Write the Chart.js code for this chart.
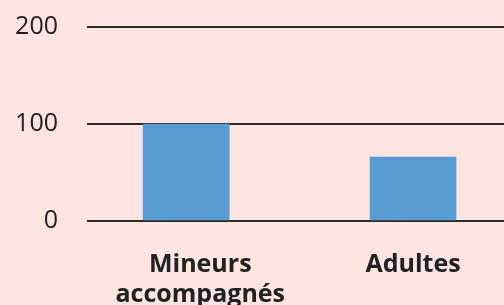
<!DOCTYPE html>
<html>
<head>
<meta charset="utf-8">
<script src="https://cdn.jsdelivr.net/npm/chart.js@4/dist/chart.umd.min.js"></script>
<style>
  html, body { margin: 0; padding: 0; background: #fde5e1; }
  #wrap { width: 504px; height: 305px; }
</style>
</head>
<body>
<div id="wrap"><canvas id="graf" width="504" height="305"></canvas></div>
<script>
const categorias = [['Mineurs', 'accompagnés'], ['Adultes']];
const valores = [100, 66];
const ticksY = [0, 100, 200];

const puntos = valores.map((v, i) => ({ x: i, y: v }));

// el primer rótulo va algo desplazado a la derecha en el original
const desplazRotulo = [0.062, 0];

const ctx = document.getElementById('graf').getContext('2d');
new Chart(ctx, {
  type: 'bar',
  data: {
    datasets: [{
      data: puntos,
      backgroundColor: '#569cd3',
      barThickness: 86
    }]
  },
  options: {
    responsive: false,
    animation: false,
    layout: { padding: { left: 0, right: 0, top: 27, bottom: 0 } },
    plugins: { legend: { display: false }, tooltip: { enabled: false } },
    scales: {
      x: {
        type: 'linear',
        offset: false,
        min: -0.4374,
        max: 1.4012,
        grid: { display: false },
        border: { display: false },
        afterBuildTicks: s => { s.ticks = categorias.map((c, i) => ({ value: i + desplazRotulo[i] })); },
        afterFit: s => { s.height = 84; s.paddingLeft = 0; s.paddingRight = 0; },
        ticks: {
          autoSkip: false,
          maxRotation: 0,
          padding: 21,
          color: '#222',
          font: { family: 'Open Sans', size: 25, weight: 'bold', lineHeight: 1.2 },
          callback: (v, i) => categorias[i]
        }
      },
      y: {
        min: 0,
        max: 200,
        afterBuildTicks: s => { s.ticks = ticksY.map(v => ({ value: v })); },
        afterFit: s => { s.width = 87; s.paddingTop = 0; s.paddingBottom = 0; },
        grid: { color: '#2d2a2a', lineWidth: 2, drawTicks: false },
        border: { display: false },
        ticks: {
          padding: 29,
          color: '#222',
          font: { family: 'Open Sans', size: 25, weight: 'normal' }
        }
      }
    }
  }
});
</script>
</body>
</html>
